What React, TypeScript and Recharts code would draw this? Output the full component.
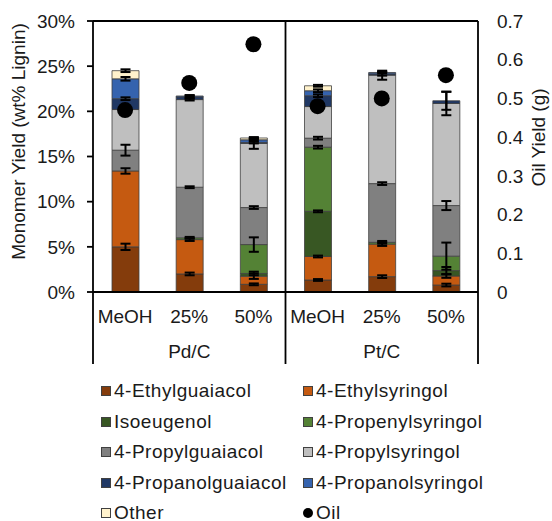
import { Bar, ComposedChart, ErrorBar, Line, ReferenceLine, XAxis, YAxis } from 'recharts'

// ── Categories ──
const categories = ['Pd/C MeOH', 'Pd/C 25%', 'Pd/C 50%', 'Pt/C MeOH', 'Pt/C 25%', 'Pt/C 50%']
const conditions = ['MeOH', '25%', '50%', 'MeOH', '25%', '50%']
const catalysts = ['Pd/C', 'Pd/C', 'Pd/C', 'Pt/C', 'Pt/C', 'Pt/C']

// ── Monomer yields (wt% lignin) and their errors ──
const ethylguaiacol = [5.0, 2.0, 0.85, 1.33, 1.7, 0.77]
const ethylguaiacolErr = [0.35, 0.15, 0.1, 0.1, 0.15, 0.15]
const ethylsyringol = [8.4, 3.8, 0.9, 2.6, 3.6, 1.0]
const ethylsyringolErr = [0.3, 0.15, 0.3, 0.1, 0.2, 0.2]
const isoeugenol = [0, 0, 0.3, 5.0, 0, 0.6]
const isoeugenolErr = [0, 0, 0.2, 0.1, 0, 0.4]
const propenylsyringol = [0, 0.2, 3.2, 7.1, 0.2, 1.6]
const propenylsyringolErr = [0, 0.1, 0.8, 0.15, 0.15, 1.5]
const propylguaiacol = [2.3, 5.6, 4.1, 1.0, 6.5, 5.6]
const propylguaiacolErr = [0.6, 0.1, 0.15, 0.15, 0.15, 0.5]
const propylsyringol = [4.5, 9.7, 7.1, 3.5, 12.0, 11.3]
const propylsyringolErr = [0.4, 0.1, 0.6, 0.15, 0.5, 1.3]
const propanolguaiacol = [1.2, 0.3, 0.1, 1.2, 0.15, 0.3]
const propanolguaiacolErr = [0.15, 0.15, 0.1, 0.15, 0.2, 1.0]
const propanolsyringol = [2.2, 0.1, 0.3, 0.55, 0.15, 0]
const propanolsyringolErr = [0.2, 0.1, 0.1, 0.15, 0.1, 0]
const other = [0.9, 0, 0.2, 0.55, 0, 0]
const otherErr = [0.15, 0, 0.1, 0.1, 0, 0]

// ── Oil yield (g) ──
const oilYield = [0.47, 0.54, 0.64, 0.48, 0.5, 0.56]

const leftTicks = [0, 5, 10, 15, 20, 25, 30]
const rightTicks = [0, 0.1, 0.2, 0.3, 0.4, 0.5, 0.6, 0.7]

const series = [
  { key: 'ethylguaiacol', name: '4-Ethylguaiacol', color: '#843C0C', values: ethylguaiacol, errors: ethylguaiacolErr },
  { key: 'ethylsyringol', name: '4-Ethylsyringol', color: '#C55A11', values: ethylsyringol, errors: ethylsyringolErr },
  { key: 'isoeugenol', name: 'Isoeugenol', color: '#385723', values: isoeugenol, errors: isoeugenolErr },
  { key: 'propenylsyringol', name: '4-Propenylsyringol', color: '#548235', values: propenylsyringol, errors: propenylsyringolErr },
  { key: 'propylguaiacol', name: '4-Propylguaiacol', color: '#808080', values: propylguaiacol, errors: propylguaiacolErr },
  { key: 'propylsyringol', name: '4-Propylsyringol', color: '#BFBFBF', values: propylsyringol, errors: propylsyringolErr },
  { key: 'propanolguaiacol', name: '4-Propanolguaiacol', color: '#203864', values: propanolguaiacol, errors: propanolguaiacolErr },
  { key: 'propanolsyringol', name: '4-Propanolsyringol', color: '#3563AE', values: propanolsyringol, errors: propanolsyringolErr },
  { key: 'other', name: 'Other', color: '#FFF2CC', values: other, errors: otherErr },
]

const data = categories.map((id, i) => {
  const row: Record<string, any> = { id, oil: oilYield[i] }
  series.forEach((s) => {
    row[s.key] = s.values[i]
    row[s.key + 'Err'] = s.errors[i]
  })
  return row
})

// ── Layout ──
const FONT = '"Liberation Sans", Arial, sans-serif'
const TEXT = '#1a1a1a'
const W = 552
const PLOT_TOP = 21
const PLOT_BOTTOM = 292
const PLOT_LEFT = 93
const PLOT_RIGHT = 478
const CAT_W = (PLOT_RIGHT - PLOT_LEFT) / categories.length
const SEP_BOTTOM = 364
const AXIS_H = 40
const LINE_W = 1.8

function GroupTick(props: any) {
  const { x, y, payload } = props
  const i = categories.indexOf(payload.value)
  const first = i === 0 || catalysts[i] !== catalysts[i - 1]
  const last = i === categories.length - 1
  const mid = i > 0 && i < categories.length - 1 && catalysts[i - 1] === catalysts[i] && catalysts[i + 1] === catalysts[i]
  return (
    <g>
      {first && (
        <line
          x1={x - CAT_W / 2}
          x2={x - CAT_W / 2}
          y1={i === 0 ? PLOT_BOTTOM : PLOT_TOP}
          y2={SEP_BOTTOM}
          stroke="#000"
          strokeWidth={LINE_W}
        />
      )}
      {last && (
        <line x1={x + CAT_W / 2} x2={x + CAT_W / 2} y1={PLOT_BOTTOM} y2={SEP_BOTTOM} stroke="#000" strokeWidth={LINE_W} />
      )}
      {mid && (
        <text x={x} y={y} dy={26} textAnchor="middle" fontSize={19} fontFamily={FONT} fill={TEXT}>
          {catalysts[i]}
        </text>
      )}
    </g>
  )
}

function AxisTitle({ x, y, text }: { x: number; y: number; text: string }) {
  return (
    <text
      x={x}
      y={y}
      transform={`rotate(-90 ${x} ${y})`}
      textAnchor="middle"
      dominantBaseline="central"
      fontSize={19}
      fontFamily={FONT}
      fill={TEXT}
    >
      {text}
    </text>
  )
}

function LegendBlock() {
  return (
    <div
      style={{
        position: 'absolute',
        left: 101,
        top: 375.75,
        display: 'grid',
        gridTemplateColumns: '202px 202px',
        gridAutoRows: '30.5px',
        fontFamily: FONT,
        fontSize: 19,
        letterSpacing: 0.5,
        color: TEXT,
      }}
    >
      {series.map((s) => (
        <div key={s.key} style={{ display: 'flex', alignItems: 'center', gap: 3, whiteSpace: 'nowrap' }}>
          <span
            style={{
              width: 8,
              height: 8,
              background: s.color,
              border: '1px solid #404040',
              display: 'inline-block',
            }}
          />
          <span>{s.name}</span>
        </div>
      ))}
      <div style={{ display: 'flex', alignItems: 'center', gap: 3, whiteSpace: 'nowrap' }}>
        <span style={{ width: 10, height: 10, borderRadius: 5, background: '#000', display: 'inline-block' }} />
        <span>Oil</span>
      </div>
    </div>
  )
}

export default function App() {
  return (
    <div style={{ position: 'absolute', left: 0, top: 0, width: W, height: 521, background: '#fff', overflow: 'hidden' }}>
      <ComposedChart
        width={W}
        height={PLOT_BOTTOM + AXIS_H * 2}
        data={data}
        margin={{ top: PLOT_TOP, right: 0, bottom: 0, left: 0 }}
        barCategoryGap={0}
      >
        <XAxis
          xAxisId="cat"
          dataKey="id"
          scale="band"
          height={AXIS_H}
          interval={0}
          axisLine={{ stroke: '#000', strokeWidth: LINE_W }}
          tickLine={false}
          tickSize={6}
          tickMargin={12}
          tickFormatter={(v: string) => conditions[categories.indexOf(v)]}
          tick={{ fontSize: 19, fill: TEXT, fontFamily: FONT }}
        />
        <XAxis
          xAxisId="grp"
          dataKey="id"
          scale="band"
          height={AXIS_H}
          interval={0}
          axisLine={false}
          tickLine={false}
          tickSize={0}
          tickMargin={0}
          tick={<GroupTick />}
        />
        <YAxis
          yAxisId="left"
          domain={[0, 30]}
          ticks={leftTicks}
          interval={0}
          width={PLOT_LEFT}
          tickFormatter={(v: number) => `${v}%`}
          axisLine={{ stroke: '#000', strokeWidth: LINE_W }}
          tickLine={{ stroke: '#000', strokeWidth: LINE_W }}
          tickSize={6}
          tickMargin={12}
          tick={{ fontSize: 19, fill: TEXT, fontFamily: FONT }}
          label={{
            content: (p: any) => (
              <AxisTitle x={p.viewBox.x + 18} y={p.viewBox.y + p.viewBox.height / 2 - 15} text="Monomer Yield (wt% Lignin)" />
            ),
          }}
        />
        <YAxis
          yAxisId="right"
          orientation="right"
          domain={[0, 0.7]}
          ticks={rightTicks}
          interval={0}
          width={W - PLOT_RIGHT}
          axisLine={{ stroke: '#000', strokeWidth: LINE_W }}
          tickLine={false}
          tickSize={6}
          tickMargin={13}
          tick={{ fontSize: 19, fill: TEXT, fontFamily: FONT }}
          label={{
            content: (p: any) => (
              <AxisTitle x={p.viewBox.x + 60} y={p.viewBox.y + p.viewBox.height / 2 - 19} text="Oil Yield (g)" />
            ),
          }}
        />
        <ReferenceLine xAxisId="cat" yAxisId="left" y={30} stroke="#000" strokeWidth={LINE_W} />
        {series.map((s) => (
          <Bar
            key={s.key}
            dataKey={s.key}
            name={s.name}
            stackId="monomer"
            xAxisId="cat"
            yAxisId="left"
            fill={s.color}
            stroke="#404040"
            strokeWidth={0.8}
            barSize={27}
            isAnimationActive={false}
          >
            <ErrorBar dataKey={s.key + 'Err'} width={5} strokeWidth={2} stroke="#000" />
          </Bar>
        ))}
        <Line
          dataKey="oil"
          name="Oil"
          xAxisId="cat"
          yAxisId="right"
          stroke="none"
          dot={{ r: 8, fill: '#000', stroke: '#000', strokeWidth: 0 }}
          activeDot={false}
          isAnimationActive={false}
        />
      </ComposedChart>
      <LegendBlock />
    </div>
  )
}
